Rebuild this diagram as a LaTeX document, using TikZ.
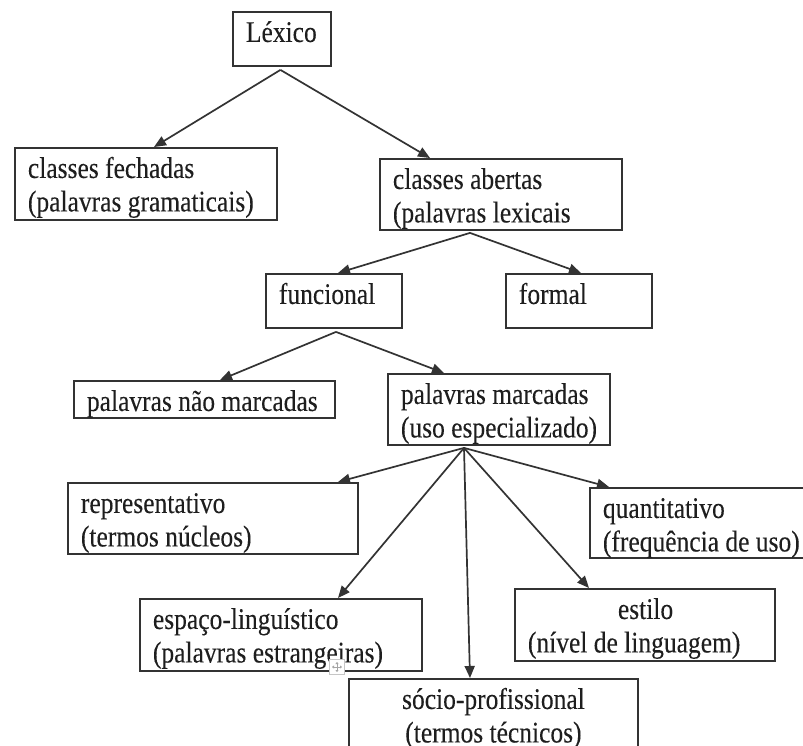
\documentclass[tikz,border=0pt]{standalone}
\usepackage{fontspec}
\setmainfont{Liberation Serif}[FakeStretch=0.85,FakeBold=0.12]
\usetikzlibrary{arrows.meta,calc}
\definecolor{ink}{HTML}{1E1E1E}
\definecolor{edge}{HTML}{333333}
% box contents: width, height, text; first baseline 30pt below the top edge
\newcommand\lbox[3]{\parbox[c][#2pt][t]{#1pt}{\fontsize{30}{33.5}\selectfont\raggedright\leftskip=13pt\rule{0pt}{30pt}#3}}
\newcommand\cbox[3]{\parbox[c][#2pt][t]{#1pt}{\fontsize{30}{33.5}\selectfont\centering\rule{0pt}{30pt}#3}}
\begin{document}
\begin{tikzpicture}[x=1pt,y=-1pt,
  box/.style={draw=edge,line width=1.9pt,inner sep=0pt,anchor=north west,text=ink,fill=white},
  link/.style={draw=edge,line width=1.7pt,-{Triangle[length=12pt,width=10pt]}}]
\useasboundingbox[fill=white] (0,0) rectangle (803,745);

% boxes
\node[box] (lex)    at (232,11)  {\lbox{98}{54}{Léxico}};
\node[box] (fech)   at (14,147)  {\lbox{262}{72}{classes fechadas\\(palavras gramaticais)}};
\node[box] (abert)  at (379,158) {\lbox{242}{71}{classes abertas\\(palavras lexicais}};
\node[box] (func)   at (265,273) {\lbox{136}{54}{funcional}};
\node[box] (form)   at (505,273) {\lbox{146}{54}{formal}};
\node[box] (nmarc)  at (73,380)  {\lbox{261}{37}{palavras não marcadas}};
\node[box] (marc)   at (387,373) {\lbox{222}{71}{palavras marcadas\\(uso especializado)}};
\node[box] (repr)   at (67,482)  {\lbox{290}{71}{representativo\\(termos núcleos)}};
\node[box] (quant)  at (589,487) {\lbox{230}{70}{quantitativo\\(frequência de uso)}};
\node[box] (espa)   at (139,598) {\lbox{282}{72}{espaço-linguístico\\(palavras estrangeiras)}};
\node[box] (estilo) at (514,588) {\lbox{260}{72}{\hspace*{90pt}estilo\\(nível de linguagem)}};
\node[box] (socio)  at (348,678) {\cbox{289}{90}{sócio-profissional\\(termos técnicos)}};

% connectors
\draw[link] ($(lex.south)+(-1.5,3)$) -- ($(fech.north west)+(140,0)$);
\draw[link] ($(lex.south)+(-1.5,3)$) -- ($(abert.north west)+(51,0)$);
\draw[link] ($(abert.south west)+(91,2)$) -- ($(func.north west)+(73,0)$);
\draw[link] ($(abert.south west)+(91,2)$) -- ($(form.north west)+(76,0)$);
\draw[link] ($(func.south west)+(71,3)$) -- ($(nmarc.north west)+(147,0)$);
\draw[link] ($(func.south west)+(71,3)$) -- ($(marc.north west)+(57,0)$);
\draw[link] ($(marc.south west)+(77,2)$) -- ($(repr.north west)+(271,0)$);
\draw[link] ($(marc.south west)+(77,2)$) -- ($(quant.north west)+(20,0)$);
\draw[link] ($(marc.south west)+(77,2)$) -- ($(espa.north west)+(199,0)$);
\draw[link] ($(marc.south west)+(77,2)$) -- ($(estilo.north west)+(75,0)$);
\draw[link] ($(marc.south west)+(77,2)$) -- ($(socio.north west)+(122,0)$);

% small move handle
\node[draw=gray!45,fill=white,line width=0.8pt,minimum size=15pt,inner sep=0pt] (handle) at (337,667) {};
\draw[gray!70,line width=0.7pt,{Triangle[length=2pt,width=3pt]}-{Triangle[length=2pt,width=3pt]}]
  ($(handle.center)+(-5,0)$) -- ($(handle.center)+(5,0)$);
\draw[gray!70,line width=0.7pt,{Triangle[length=2pt,width=3pt]}-{Triangle[length=2pt,width=3pt]}]
  ($(handle.center)+(0,-5)$) -- ($(handle.center)+(0,5)$);
\end{tikzpicture}
\end{document}
